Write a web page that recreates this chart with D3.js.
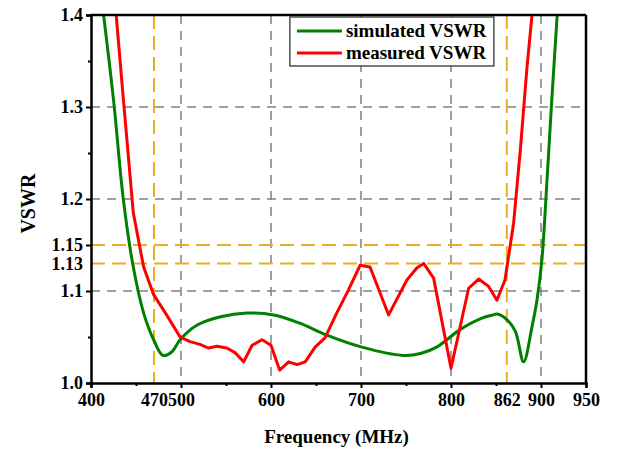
<!DOCTYPE html>
<html>
<head>
<meta charset="utf-8">
<script src="https://cdnjs.cloudflare.com/ajax/libs/d3/7.8.5/d3.min.js"></script>
<style>
  body { margin: 0; background: #fff; }
  text { font-family: "Liberation Serif", "Times New Roman", serif; font-weight: bold; }
</style>
</head>
<body>
<div class="center"></div>
<script>
// data
var simFreq = [414, 425, 436, 447, 458.5, 469.6, 480, 490, 499, 518, 544, 573, 603, 632, 662, 701, 747, 766, 784, 810, 833, 847, 851, 862, 871.5, 880.7, 890, 895.5, 901, 906.7, 912, 918];
var simVswr = [1.4, 1.308, 1.199, 1.126, 1.076, 1.047, 1.030, 1.034, 1.047, 1.063, 1.072, 1.076, 1.074, 1.065, 1.052, 1.039, 1.030, 1.032, 1.039, 1.058, 1.070, 1.074, 1.075, 1.069, 1.056, 1.023, 1.061, 1.090, 1.134, 1.221, 1.308, 1.4];

var measFreq = [428, 436, 447, 458.5, 469.6, 484, 499, 510, 521, 530.7, 540, 551, 560, 569.6, 579, 590, 600, 609.6, 619.6, 629, 638, 649, 660, 673, 686, 699, 710, 730.7, 751, 762, 769.6, 780.7, 800, 819.6, 830.7, 841.8, 851, 860, 869.6, 877, 884.5, 890];
var measVswr = [1.4, 1.308, 1.185, 1.126, 1.096, 1.074, 1.050, 1.045, 1.042, 1.038, 1.040, 1.038, 1.033, 1.023, 1.041, 1.047, 1.041, 1.014, 1.023, 1.020, 1.023, 1.039, 1.049, 1.076, 1.101, 1.128, 1.126, 1.074, 1.112, 1.125, 1.130, 1.114, 1.016, 1.103, 1.113, 1.105, 1.090, 1.112, 1.174, 1.253, 1.344, 1.4];

var xTicks = [400, 470, 500, 600, 700, 800, 862, 900, 950];
var xMinor = [450, 550, 650, 750, 850];
var yTicks = [1.0, 1.1, 1.13, 1.15, 1.2, 1.3, 1.4];
var yMinor = [1.05, 1.25, 1.35];
var gridX = [500, 600, 700, 800, 900];
var gridY = [1.1, 1.2, 1.3];
var bandX = [470, 862];
var bandY = [1.13, 1.15];

var margin = {top: 15, right: 32, bottom: 67, left: 91},
    width = 618 - margin.left - margin.right,
    height = 450 - margin.top - margin.bottom;

var x = d3.scaleLinear().domain([400, 950]).range([0, width]);
var y = d3.scaleLinear().domain([1.0, 1.4]).range([height, 0]);

var svg = d3.select(".center").append("svg")
    .attr("width", 618)
    .attr("height", 450)
    .append("g")
    .attr("transform", "translate(" + margin.left + "," + margin.top + ")");

svg.append("clipPath").attr("id", "clip")
  .append("rect").attr("width", width).attr("height", height);

// gray grid
svg.selectAll(".gx").data(gridX).enter().append("line")
    .attr("x1", d => x(d)).attr("x2", d => x(d))
    .attr("y1", 0).attr("y2", height)
    .style("stroke", "#808080").style("stroke-width", 1.5)
    .style("stroke-dasharray", "9,7");

svg.selectAll(".gy").data(gridY).enter().append("line")
    .attr("x1", 0).attr("x2", width)
    .attr("y1", d => y(d)).attr("y2", d => y(d))
    .style("stroke", "#808080").style("stroke-width", 1.5)
    .style("stroke-dasharray", "9,7");

// gold band markers
svg.selectAll(".bx").data(bandX).enter().append("line")
    .attr("x1", d => x(d)).attr("x2", d => x(d))
    .attr("y1", 0).attr("y2", height)
    .style("stroke", "#e8b020").style("stroke-width", 2)
    .style("stroke-dasharray", "14,7");

svg.selectAll(".by").data(bandY).enter().append("line")
    .attr("x1", 0).attr("x2", width)
    .attr("y1", d => y(d)).attr("y2", d => y(d))
    .style("stroke", "#e8b020").style("stroke-width", 2)
    .style("stroke-dasharray", "14,7");

// curves
var sim = simFreq.map((f, i) => [f, simVswr[i]]);
var meas = measFreq.map((f, i) => [f, measVswr[i]]);

svg.append("path")
    .datum(sim)
    .attr("clip-path", "url(#clip)")
    .attr("d", d3.line().x(d => x(d[0])).y(d => y(d[1])).curve(d3.curveCatmullRom.alpha(0.5)))
    .style("fill", "none").style("stroke", "#008000").style("stroke-width", 3);

svg.append("path")
    .datum(meas)
    .attr("clip-path", "url(#clip)")
    .attr("d", d3.line().x(d => x(d[0])).y(d => y(d[1])))
    .style("fill", "none").style("stroke", "#ff0000").style("stroke-width", 3)
    .style("stroke-linejoin", "round");

// axes
var xAxis = svg.append("g")
    .attr("transform", "translate(0," + height + ")")
    .call(d3.axisBottom(x).tickValues(xTicks).tickSize(5).tickPadding(5).tickFormat(d3.format("d")));
xAxis.selectAll(".tick line").filter(d => bandX.indexOf(d) >= 0).remove();

svg.append("g")
    .attr("transform", "translate(0," + height + ")")
    .call(d3.axisBottom(x).tickValues(xMinor).tickSize(3).tickFormat(""))
    .select(".domain").remove();

var yAxis = svg.append("g")
    .call(d3.axisLeft(y).tickValues(yTicks).tickSize(5).tickPadding(3)
      .tickFormat(d => (d === 1.13 || d === 1.15) ? d.toFixed(2) : d.toFixed(1)));
yAxis.selectAll(".tick line").filter(d => d === 1.13).remove();

svg.append("g")
    .call(d3.axisLeft(y).tickValues(yMinor).tickSize(3).tickFormat(""))
    .select(".domain").remove();

svg.selectAll(".domain").style("stroke-width", 2.5);
svg.selectAll(".tick line").style("stroke-width", 2);
svg.selectAll(".tick text").style("font-size", "18px").style("fill", "#000")
    .style("font-family", "Liberation Serif").style("font-weight", "bold");

// frame top/right
svg.append("line").attr("x1", 0).attr("x2", width).attr("y1", 0).attr("y2", 0)
    .style("stroke", "#000").style("stroke-width", 2.5);
svg.append("line").attr("x1", width).attr("x2", width).attr("y1", 0).attr("y2", height)
    .style("stroke", "#000").style("stroke-width", 2.5);

// titles
svg.append("text")
    .attr("x", width / 2 - 2)
    .attr("y", height + 60)
    .style("text-anchor", "middle")
    .style("font-size", "19px")
    .text("Frequency (MHz)");

svg.append("text")
    .attr("transform", "rotate(-90)")
    .attr("x", -y(1.195))
    .attr("y", -56)
    .style("text-anchor", "middle")
    .style("font-size", "20px")
    .text("VSWR");

// legend
var legend = svg.append("g").attr("transform", "translate(" + (x(621)) + ",2)");
legend.append("rect")
    .attr("width", 204).attr("height", 49)
    .style("fill", "#fff").style("stroke", "#222").style("stroke-width", 1.2);
var items = [["simulated VSWR", "#008000"], ["measured VSWR", "#ff0000"]];
items.forEach(function(it, i) {
  legend.append("line")
    .attr("x1", 7).attr("x2", 52)
    .attr("y1", 14 + i * 22).attr("y2", 14 + i * 22)
    .style("stroke", it[1]).style("stroke-width", 3);
  legend.append("text")
    .attr("x", 56).attr("y", 20 + i * 22)
    .style("font-size", "19px")
    .text(it[0]);
});
</script>
</body>
</html>
